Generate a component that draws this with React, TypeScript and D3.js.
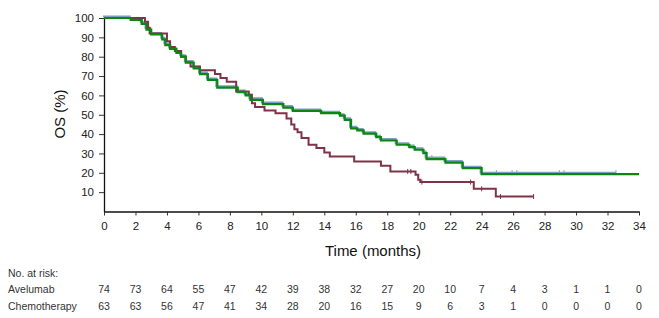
import React, { useEffect, useRef } from 'react';
import * as d3 from 'd3';

// Kaplan-Meier steps: [time (months), OS %]
const avelumabSteps: [number, number][] = [
  [0, 100], [1.7, 99], [2.4, 97], [2.7, 94], [3.0, 91.5], [3.7, 89], [3.9, 86], [4.2, 84],
  [4.6, 82], [4.9, 80], [5.2, 77], [5.7, 74], [6.1, 71], [6.6, 68], [7.2, 64], [8.5, 61.7],
  [9.0, 60], [9.3, 57.7], [10.1, 55.5], [11.4, 53.7], [12.0, 52], [13.8, 50.8], [15.0, 49.5],
  [15.3, 47.4], [15.7, 43], [16.1, 41.9], [16.5, 40.2], [17.3, 38.4], [17.6, 36.7], [18.6, 34.5],
  [19.4, 33.3], [19.75, 31.9], [20.3, 30.2], [20.5, 27.1], [21.7, 25.3], [22.8, 22.4], [24.0, 19.3],
];
const avelumabEnd = 34;
const avelumabBlueEnd = 32.6;
const avelumabCensors = [20.9, 25.0, 26.0, 26.3, 29.0, 29.3, 32.6];

const chemoSteps: [number, number][] = [
  [0, 100], [2.6, 98], [2.8, 95], [2.9, 92], [4.0, 88], [4.2, 85], [4.5, 83], [4.9, 80],
  [5.2, 77], [5.5, 75], [6.1, 73], [7.05, 71], [7.4, 69], [7.8, 67], [8.4, 62], [9.2, 60.3],
  [9.4, 56], [9.6, 54], [10.2, 52.2], [10.9, 50.8], [11.6, 48], [11.9, 45], [12.1, 42.5],
  [12.3, 41], [12.55, 38], [13.0, 34.5], [13.5, 32.8], [14.0, 30.5], [14.35, 28.4],
  [15.9, 25.8], [17.6, 23.6], [18.2, 20.7], [19.8, 19], [19.97, 16.4], [20.1, 15.2],
  [23.5, 11.7], [24.9, 7.75],
];
const chemoEnd = 27.3;
const chemoCensors = [19.3, 19.5, 20.2, 23.3, 24.0, 25.2, 27.3];

const xTicks = d3.range(0, 35, 2);
const yTicks = [10, 20, 30, 40, 50, 60, 70, 80, 90, 100];

const riskLabels = ['Avelumab', 'Chemotherapy'];
const avelumabAtRisk = [74, 73, 64, 55, 47, 42, 39, 38, 32, 27, 20, 10, 7, 4, 3, 1, 1, 0];
const chemoAtRisk = [63, 63, 56, 47, 41, 34, 28, 20, 16, 15, 9, 6, 3, 1, 0, 0, 0, 0];

const GREEN = '#0a870f';
const BLUE = '#7d9ec6';
const MAROON = '#7e3347';
const FONT = 'Liberation Sans, Arial, Helvetica, sans-serif';

export default function App() {
  const svgRef = useRef<SVGSVGElement>(null);

  useEffect(() => {
    if (!svgRef.current) return;
    const svg = d3.select(svgRef.current);
    svg.selectAll('*').remove();

    const x = d3.scaleLinear().domain([0, 34]).range([104, 639]);
    const y = d3.scaleLinear().domain([0, 100]).range([211.5, 18]);

    // axes
    const xAxis = svg.append('g')
      .attr('transform', `translate(0,${y(0)})`)
      .call(d3.axisBottom(x).tickValues(xTicks).tickSize(4).tickPadding(6).tickSizeOuter(0));
    xAxis.select('.domain').attr('stroke', '#111').attr('stroke-width', 1.3);
    xAxis.selectAll('line').attr('stroke', '#333');
    xAxis.selectAll('text').attr('font-family', FONT).attr('font-size', 11.5).attr('fill', '#222');

    const yAxis = svg.append('g')
      .attr('transform', `translate(${x(0)},0)`)
      .call(d3.axisLeft(y).tickValues(yTicks).tickSize(5).tickPadding(5).tickSizeOuter(0));
    yAxis.select('.domain').attr('stroke', '#111').attr('stroke-width', 1.3);
    yAxis.selectAll('line').attr('stroke', '#333');
    yAxis.selectAll('text').attr('font-family', FONT).attr('font-size', 11.5).attr('fill', '#222');

    // axis titles
    svg.append('text')
      .attr('transform', `translate(65,114) rotate(-90)`)
      .attr('text-anchor', 'middle')
      .attr('font-family', FONT)
      .attr('font-size', 15)
      .attr('fill', '#111')
      .text('OS (%)');

    svg.append('text')
      .attr('x', 373)
      .attr('y', 256)
      .attr('text-anchor', 'middle')
      .attr('font-family', FONT)
      .attr('font-size', 15)
      .attr('fill', '#111')
      .text('Time (months)');

    // survival curves
    const line = d3.line<[number, number]>()
      .x(d => x(d[0]))
      .y(d => y(d[1]))
      .curve(d3.curveStepAfter);

    const withEnd = (steps: [number, number][], end: number): [number, number][] =>
      [...steps, [end, steps[steps.length - 1][1]]];

    const lastS = (steps: [number, number][], t: number) => {
      let s = steps[0][1];
      steps.forEach(d => { if (d[0] <= t) s = d[1]; });
      return s;
    };

    // blue underlay of avelumab curve
    svg.append('path')
      .attr('d', line(withEnd(avelumabSteps, avelumabBlueEnd)))
      .attr('transform', 'translate(-1,-1.5)')
      .attr('fill', 'none')
      .attr('stroke', BLUE)
      .attr('stroke-width', 2);
    svg.selectAll('.cens-a')
      .data(avelumabCensors)
      .enter()
      .append('line')
      .attr('transform', 'translate(-1,-1.5)')
      .attr('x1', d => x(d))
      .attr('x2', d => x(d))
      .attr('y1', d => y(lastS(avelumabSteps, d)) - 2.5)
      .attr('y2', d => y(lastS(avelumabSteps, d)) + 2.5)
      .attr('stroke', BLUE)
      .attr('stroke-width', 1);

    svg.append('path')
      .attr('d', line(withEnd(chemoSteps, chemoEnd)))
      .attr('fill', 'none')
      .attr('stroke', MAROON)
      .attr('stroke-width', 2);
    svg.selectAll('.cens-c')
      .data(chemoCensors)
      .enter()
      .append('line')
      .attr('x1', d => x(d))
      .attr('x2', d => x(d))
      .attr('y1', d => y(lastS(chemoSteps, d)) - 2.5)
      .attr('y2', d => y(lastS(chemoSteps, d)) + 2.5)
      .attr('stroke', MAROON)
      .attr('stroke-width', 1);

    svg.append('path')
      .attr('d', line(withEnd(avelumabSteps, avelumabEnd)))
      .attr('fill', 'none')
      .attr('stroke', GREEN)
      .attr('stroke-width', 2.2);

    // number at risk table
    svg.append('text')
      .attr('x', 8)
      .attr('y', 277)
      .attr('font-family', FONT)
      .attr('font-size', 10.5)
      .attr('fill', '#333')
      .text('No. at risk:');

    const rows = [avelumabAtRisk, chemoAtRisk];
    rows.forEach((vals, i) => {
      const yy = 293 + i * 17;
      svg.append('text')
        .attr('x', 8)
        .attr('y', yy)
        .attr('font-family', FONT)
        .attr('font-size', 10.5)
        .attr('fill', '#333')
        .text(riskLabels[i]);
      svg.selectAll(`.risk-${i}`)
        .data(vals)
        .enter()
        .append('text')
        .attr('x', (_, j) => x(xTicks[j]))
        .attr('y', yy)
        .attr('text-anchor', 'middle')
        .attr('font-family', FONT)
        .attr('font-size', 10.5)
        .attr('fill', '#333')
        .text(d => d);
    });
  }, []);

  return (
    <svg
      ref={svgRef}
      width={659}
      height={318}
      style={{ position: 'absolute', left: 0, top: 0, background: '#fff' }}
    />
  );
}
